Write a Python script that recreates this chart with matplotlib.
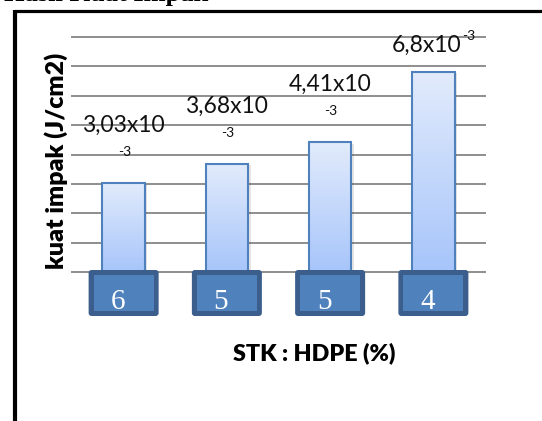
import numpy as np
import matplotlib
matplotlib.use("Agg")
import matplotlib.pyplot as plt
from matplotlib.patches import FancyBboxPatch, Rectangle
from matplotlib.lines import Line2D
from matplotlib.transforms import IdentityTransform

# Data: impact strength (x10^-3 J/cm2) for each STK : HDPE ratio
categories = ["6", "5", "5", "4"]
values = [3.03, 3.68, 4.41, 6.8]
exponent = "-3"
wrapped = [True, True, True, False]
ylabel = "kuat impak (J/cm2)"
xlabel = "STK : HDPE (%)"
title = "Hasil Kuat Impak"

W, H = 542, 421
DPI = 100
fig = plt.figure(figsize=(W / DPI, H / DPI), dpi=DPI)
px = IdentityTransform()


def fy(y_top):
    """Convert a y measured from the top of the figure to display pixels."""
    return H - y_top


ax = fig.add_axes([72 / W, (H - 272) / H, 413 / W, 235 / H])
ax.set_xlim(-0.5, len(categories) - 0.5)
ax.set_ylim(0, 8)
ax.set_yticks(range(0, 9))
ax.yaxis.grid(True, color="#8e8e8e", lw=1.4)
for gl in ax.get_ygridlines():
    gl.set_clip_on(False)
ax.set_axisbelow(True)
ax.set_xticks([])
ax.tick_params(left=False, labelleft=False)
for s in ax.spines.values():
    s.set_visible(False)

x = np.arange(len(values))
bw = 0.41
bars = ax.bar(x, values, width=bw, color="none", edgecolor="#4f81bd",
              lw=1.5, zorder=4)

# vertical gradient inside each bar, with a faint drop shadow
grad = np.linspace(0, 1, 256).reshape(-1, 1)
cmap = matplotlib.colors.LinearSegmentedColormap.from_list(
    "barfill", ["#a7c5fa", "#e2ebfc"])
for b in bars:
    x0, w, h = b.get_x(), b.get_width(), b.get_height()
    sh = Rectangle((x0 + 0.025, 0), w, h - 0.04, facecolor="#000000",
                   alpha=0.10, lw=0, zorder=2)
    ax.add_patch(sh)
    im = ax.imshow(grad, extent=[x0, x0 + w, 0, h], origin="lower",
                   cmap=cmap, aspect="auto", zorder=3)
    im.set_clip_path(b)
ax.set_xlim(-0.5, len(categories) - 0.5)
ax.set_ylim(0, 8)

# value labels
lab_font = dict(family="Lato", fontsize=16.5, color="#111111")
for xi, v, wr in zip(x, values, wrapped):
    txt = f"{v:g}".replace(".", ",") + "x10"
    if wr:
        ax.annotate(txt, xy=(xi, v), xytext=(0, 58), textcoords="offset pixels",
                    ha="center", va="center", **lab_font)
        ax.annotate(exponent, xy=(xi, v), xytext=(1, 31),
                    textcoords="offset pixels", ha="center", va="center",
                    family="Lato", fontsize=10, color="#111111")
    else:
        ax.annotate(txt, xy=(xi, v), xytext=(-7, 27),
                    textcoords="offset pixels", ha="center", va="center",
                    **lab_font)
        ax.annotate(exponent, xy=(xi, v), xytext=(35, 36),
                    textcoords="offset pixels", ha="center", va="center",
                    family="Lato", fontsize=10, color="#111111")

# category boxes below the bars
fig.canvas.draw()
for xi, cat in zip(x, categories):
    cx, _ = ax.transData.transform((xi, 0))
    bw_px, bh_px = 70, 46
    top = 270
    outer = FancyBboxPatch((cx - bw_px / 2 + 2, fy(top + bh_px) + 2),
                           bw_px - 4, bh_px - 4,
                           boxstyle="round,pad=2,rounding_size=3",
                           facecolor="#3b5e8c", edgecolor="none",
                           transform=px, zorder=10)
    fig.add_artist(outer)
    inner = Rectangle((cx - bw_px / 2 + 5, fy(top + bh_px) + 5),
                      bw_px - 10, bh_px - 10, facecolor="#4f81bd",
                      edgecolor="none", transform=px, zorder=11)
    fig.add_artist(inner)
    fig.text(cx - 6, fy(top + 32), cat, transform=px, ha="center",
             va="center", family="Liberation Serif", fontsize=21,
             color="white", zorder=12)

# axis titles
fig.text(56, fy(161), ylabel, transform=px, rotation=90, ha="center",
         va="center", family="Lato", fontweight="heavy", fontsize=18,
         color="#000000")
fig.text(314, fy(353), xlabel, transform=px, ha="center", va="center",
         family="Lato", fontweight="heavy", fontsize=16.8, color="#000000")

# surrounding frame and heading above it
fig.add_artist(Line2D([15.3, 15.3], [fy(9.5), 0], lw=3.0, color="black",
                      transform=px, solid_capstyle="butt"))
fig.add_artist(Line2D([13.5, W], [fy(10.5), fy(10.5)], lw=2.3, color="black",
                      transform=px, solid_capstyle="butt"))
fig.text(4, fy(1.5), title, transform=px, ha="left", va="baseline",
         family="Liberation Serif", fontweight="bold", fontsize=19,
         color="black")

fig.savefig("out.png", dpi=DPI)
